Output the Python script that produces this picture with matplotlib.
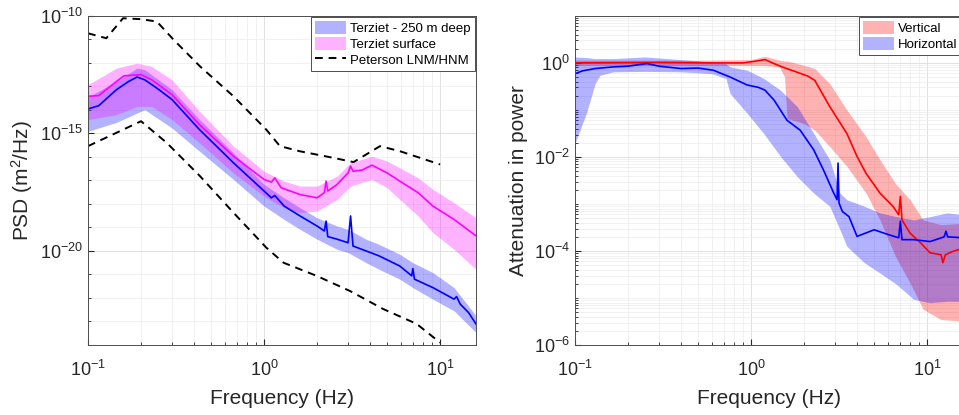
import numpy as np
import matplotlib
matplotlib.use("Agg")
import matplotlib.pyplot as plt
from matplotlib.patches import Patch
from matplotlib.lines import Line2D
from matplotlib.ticker import LogLocator, NullFormatter

plt.rcParams['font.family'] = ['Liberation Sans', 'DejaVu Sans']
plt.rcParams['mathtext.default'] = 'regular'

# ---- left panel: PSD (log10 values) ----
deep_f = [0.1, 0.115, 0.145, 0.17, 0.19, 0.21, 0.25, 0.3, 0.43, 0.67, 1.0, 1.1, 1.15, 1.3,
          1.6, 2.0, 2.2, 2.25, 2.3, 2.6, 3.0, 3.1, 3.2, 3.8, 4.5, 5.9, 6.9, 7.0, 7.15,
          9.1, 12.0, 12.4, 13.0, 14.5, 16.0]
deep_med = [-13.96, -13.82, -13.14, -12.79, -12.60, -12.72, -13.11, -13.56, -14.84, -16.25,
            -17.45, -17.74, -17.64, -18.09, -18.51, -18.94, -19.15, -18.73, -19.39, -19.50,
            -19.65, -18.51, -19.79, -20.00, -20.21, -20.64, -21.06, -20.75, -21.20,
            -21.56, -22.05, -21.94, -22.26, -22.62, -23.11]

deep_band_f = [0.1, 0.145, 0.19, 0.21, 0.3, 0.43, 0.67, 1.0, 1.3, 1.6, 2.0, 2.6, 3.0, 3.8,
               4.5, 5.9, 7.0, 9.1, 12.0, 16.0]
deep_hi = [-13.45, -12.79, -12.22, -12.29, -13.14, -14.41, -15.83, -17.17, -17.74, -18.16,
           -18.59, -18.94, -19.08, -19.50, -19.72, -20.14, -20.50, -20.92, -21.56, -22.76]
deep_lo = [-14.91, -14.53, -14.13, -13.99, -14.77, -15.76, -16.96, -18.09, -18.66, -19.08,
           -19.50, -19.93, -20.07, -20.50, -20.78, -21.20, -21.56, -22.05, -22.55, -23.47]

surf_f = [0.1, 0.115, 0.145, 0.16, 0.2, 0.23, 0.3, 0.43, 0.67, 1.0, 1.1, 1.15, 1.25, 1.6,
          2.0, 2.2, 2.25, 2.3, 2.6, 3.0, 3.1, 3.2, 3.6, 4.1, 5.0, 5.9, 7.5, 9.1, 12.0, 16.0]
surf_med = [-13.42, -13.39, -12.79, -12.55, -12.50, -12.72, -13.35, -14.63, -15.97, -16.96,
            -17.07, -16.89, -17.31, -17.60, -17.74, -17.52, -17.03, -17.45, -17.17, -16.68,
            -16.39, -16.61, -16.56, -16.35, -16.68, -17.03, -17.52, -18.09, -18.66, -19.36]

surf_band_f = [0.1, 0.145, 0.19, 0.23, 0.3, 0.43, 0.67, 1.0, 1.3, 1.6, 2.0, 2.6, 3.1, 4.1,
               5.0, 5.9, 7.5, 9.1, 12.0, 16.0]
surf_hi = [-12.93, -12.22, -12.01, -12.15, -12.72, -14.06, -15.54, -16.61, -17.03, -17.24,
           -17.24, -16.82, -16.25, -15.97, -16.18, -16.46, -16.89, -17.38, -17.95, -18.59]
surf_lo = [-14.41, -14.20, -13.85, -13.85, -14.41, -15.40, -16.68, -17.67, -18.16, -18.37,
           -18.30, -17.81, -17.24, -16.96, -17.31, -17.81, -18.51, -19.22, -19.93, -20.78]

nhnm_f = [0.1, 0.127, 0.158, 0.2, 0.246, 0.305, 0.433, 0.67, 1.03, 1.23, 1.6, 2.48, 3.22,
          4.56, 5.93, 10.0]
nhnm = [-10.74, -10.95, -10.10, -10.14, -10.24, -11.00, -12.15, -13.42, -14.84, -15.54,
        -15.76, -16.04, -16.22, -15.54, -15.76, -16.32]
nlnm_f = [0.1, 0.2, 0.28, 0.433, 0.67, 1.03, 1.29, 1.99, 3.07, 4.75, 7.35, 10.0]
nlnm = [-15.54, -14.48, -15.40, -16.82, -18.37, -19.86, -20.50, -21.06, -21.70, -22.47,
        -23.10, -23.90]

# ---- right panel: attenuation (log10 values) ----
vert_f = [0.1, 0.3, 0.6, 0.9, 1.05, 1.2, 1.35, 1.5, 1.8, 2.1, 2.3, 2.8, 3.5, 4.0, 4.5, 5.4,
          6.4, 6.9, 7.05, 7.2, 8.0, 9.2, 10.4, 12.0, 12.3, 12.7, 14.0, 16.0]
vert_med = [0.0, 0.01, 0.0, 0.0, 0.035, 0.07, -0.014, -0.085, -0.19, -0.28, -0.37, -0.93,
            -1.5, -1.99, -2.35, -2.77, -3.05, -3.23, -2.84, -3.34, -3.62, -3.83, -4.04,
            -4.08, -4.25, -4.08, -4.01, -3.94]
vert_band_f = [0.1, 0.5, 1.0, 1.2, 1.45, 1.55, 1.6, 2.0, 2.3, 2.8, 3.5, 4.5, 5.4, 6.6, 8.0,
               9.5, 12.0, 16.0]
vert_hi = [0.057, 0.057, 0.07, 0.14, 0.057, 0.04, 0.04, -0.05, -0.12, -0.44, -1.0, -1.57,
           -2.06, -2.56, -2.91, -3.34, -3.44, -3.41]
vert_lo = [-0.057, -0.057, -0.057, -0.057, -0.085, -0.3, -1.18, -1.29, -1.43, -1.78, -2.2,
           -2.77, -3.34, -4.11, -4.68, -5.24, -5.46, -5.49]

hor_f = [0.1, 0.11, 0.13, 0.165, 0.2, 0.256, 0.3, 0.4, 0.5, 0.61, 0.76, 0.95, 1.1, 1.2,
         1.35, 1.6, 1.9, 2.27, 2.58, 2.95, 3.08, 3.12, 3.16, 3.3, 3.6, 4.0, 5.0, 6.0, 6.9,
         7.05, 7.2, 8.4, 10.4, 12.5, 12.8, 13.1, 16.0]
hor_med = [-0.23, -0.17, -0.12, -0.085, -0.07, -0.014, -0.07, -0.12, -0.11, -0.155, -0.3,
           -0.47, -0.52, -0.58, -0.79, -1.22, -1.43, -1.85, -2.28, -2.77, -2.91, -2.13,
           -2.98, -3.16, -3.27, -3.69, -3.55, -3.65, -3.72, -3.37, -3.76, -3.76, -3.8,
           -3.7, -3.58, -3.7, -3.72]
hor_band_f = [0.1, 0.116, 0.13, 0.139, 0.165, 0.25, 0.4, 0.6, 0.72, 0.76, 0.95, 1.18, 1.47,
              1.83, 2.27, 2.8, 3.2, 3.5, 4.4, 5.4, 6.7, 8.4, 10.4, 13.0, 16.0]
hor_hi = [0.127, 0.113, 0.092, 0.092, 0.092, 0.127, 0.07, 0.02, -0.014, -0.085, -0.155,
          -0.33, -0.58, -0.93, -1.5, -2.06, -2.77, -2.91, -3.05, -3.19, -3.27, -3.34, -3.27,
          -3.19, -3.23]
hor_lo = [-1.71, -1.07, -0.44, -0.26, -0.19, -0.18, -0.19, -0.23, -0.33, -0.65, -1.07, -1.5,
          -1.99, -2.42, -2.77, -3.05, -3.55, -3.9, -4.25, -4.47, -4.71, -5.03, -5.1, -5.07,
          -5.07]


def p10(v):
    return 10.0 ** np.asarray(v)


def style_axes(ax):
    ax.set_xscale('log')
    ax.set_yscale('log')
    ax.set_xlim(0.1, 16)
    ax.tick_params(which='both', direction='in', labelsize=13, colors='#262626')
    ax.tick_params(which='major', length=4)
    ax.tick_params(which='minor', length=2)
    ax.tick_params(axis='x', which='major', pad=10.5)
    ax.grid(True, which='major', color='#dcdcdc', linewidth=0.6)
    ax.grid(True, which='minor', color='#ececec', linewidth=0.5)
    ax.set_axisbelow(True)
    for s in ax.spines.values():
        s.set_color('#4d4d4d')
        s.set_linewidth(0.7)
    ax.set_xticks([0.1, 1, 10])
    ax.set_xticklabels(['$10^{-1}$', '$10^{0}$', '$10^{1}$'])
    ax.xaxis.set_minor_locator(LogLocator(base=10, subs=np.arange(2, 10), numticks=20))
    ax.xaxis.set_minor_formatter(NullFormatter())
    ax.set_xlabel('Frequency (Hz)', fontsize=15, color='#262626', labelpad=7)


fig = plt.figure(figsize=(9.59, 4.15), dpi=100)
ax1 = fig.add_axes([0.0918, 0.1687, 0.4046, 0.793])
ax2 = fig.add_axes([0.5996, 0.1687, 0.4046, 0.793])

# left
style_axes(ax1)
ax1.fill_between(deep_band_f, p10(deep_lo), p10(deep_hi), color='#0000ff', alpha=0.3,
                 linewidth=0)
ax1.fill_between(surf_band_f, p10(surf_lo), p10(surf_hi), color='#ff00ff', alpha=0.3,
                 linewidth=0)
ax1.plot(surf_f, p10(surf_med), color='#ff00ff', lw=1.2)
ax1.plot(deep_f, p10(deep_med), color='#0000ff', lw=1.2)
ax1.plot(nhnm_f, p10(nhnm), color='black', lw=1.4, ls=(0, (4, 3)))
ax1.plot(nlnm_f, p10(nlnm), color='black', lw=1.4, ls=(0, (4, 3)))
ax1.set_ylim(1e-24, 1e-10)
ax1.set_yticks([1e-20, 1e-15, 1e-10])
ax1.set_yticklabels(['$10^{-20}$', '$10^{-15}$', '$10^{-10}$'])
ax1.yaxis.set_minor_locator(LogLocator(base=10, subs=(1.0,), numticks=30))
ax1.yaxis.set_minor_formatter(NullFormatter())
ax1.set_ylabel('PSD (m$^2$/Hz)', fontsize=15, color='#262626')
h1 = [Patch(facecolor='#0000ff', alpha=0.3, edgecolor='none'),
      Patch(facecolor='#ff00ff', alpha=0.3, edgecolor='none'),
      Line2D([], [], color='black', lw=1.4, ls=(0, (4, 3)))]
leg1 = ax1.legend(h1, ['Terziet - 250 m deep', 'Terziet surface', 'Peterson LNM/HNM'],
                  loc='upper right', fontsize=9.5, fancybox=False, framealpha=1,
                  edgecolor='#4d4d4d', borderaxespad=0.1, handlelength=2.4,
                  handleheight=1.1, labelspacing=0.15, handletextpad=0.3, borderpad=0.3)
leg1.get_frame().set_linewidth(0.7)

# right
style_axes(ax2)
ax2.fill_between(vert_band_f, p10(vert_lo), p10(vert_hi), color='#ff0000', alpha=0.3,
                 linewidth=0)
ax2.fill_between(hor_band_f, p10(hor_lo), p10(hor_hi), color='#0000ff', alpha=0.3,
                 linewidth=0)
ax2.plot(vert_f, p10(vert_med), color='#ff0000', lw=1.2)
ax2.plot(hor_f, p10(hor_med), color='#0000ff', lw=1.2)
ax2.set_ylim(1e-6, 10)
ax2.set_yticks([1e-6, 1e-4, 1e-2, 1])
ax2.set_yticklabels(['$10^{-6}$', '$10^{-4}$', '$10^{-2}$', '$10^{0}$'])
ax2.yaxis.set_minor_locator(LogLocator(base=10, subs=np.arange(1, 10), numticks=30))
ax2.yaxis.set_minor_formatter(NullFormatter())
ax2.set_ylabel('Attenuation in power', fontsize=15, color='#262626')
h2 = [Patch(facecolor='#ff0000', alpha=0.3, edgecolor='none'),
      Patch(facecolor='#0000ff', alpha=0.3, edgecolor='none')]
leg2 = ax2.legend(h2, ['Vertical', 'Horizontal'], loc='upper right', fontsize=9.5,
                  fancybox=False, framealpha=1, edgecolor='#4d4d4d', borderaxespad=0.1,
                  handlelength=2.4, handleheight=1.1, labelspacing=0.15,
                  handletextpad=0.3, borderpad=0.3)
leg2.get_frame().set_linewidth(0.7)

fig.savefig('out.png', dpi=100)
